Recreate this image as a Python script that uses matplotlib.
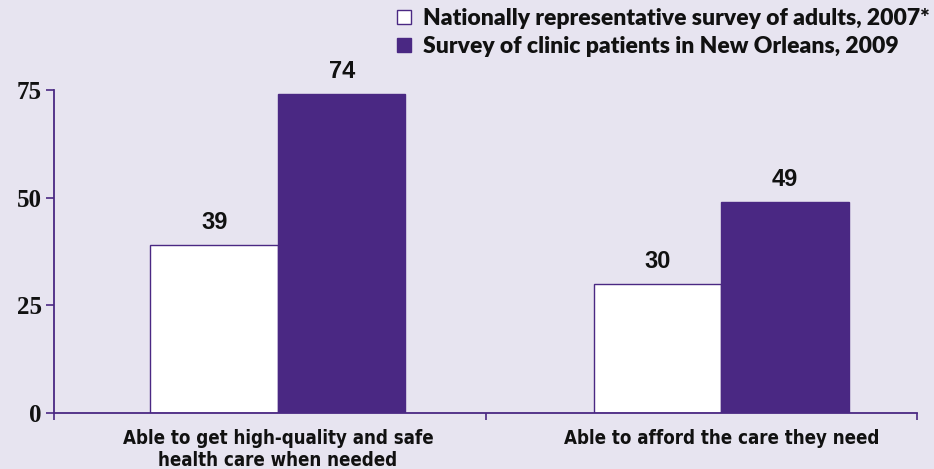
import matplotlib.pyplot as plt
from matplotlib.patches import Patch

categories = ["Able to get high-quality and safe\nhealth care when needed",
              "Able to afford the care they need"]
national_2007 = [39, 30]
new_orleans_2009 = [74, 49]
series_names = ["Nationally representative survey of adults, 2007*",
                "Survey of clinic patients in New Orleans, 2009"]
y_ticks = [0, 25, 50, 75]

bg = "#E7E4F0"
purple = "#4A2883"

fig = plt.figure(figsize=(9.34, 4.69), dpi=100, facecolor=bg)
ax = fig.add_axes([54 / 934, 56 / 469, 863 / 934, 323 / 469])
ax.set_facecolor(bg)

x = [0, 1]
w = 0.2875
bars1 = ax.bar([i - w / 2 for i in x], national_2007, w, color="white",
               edgecolor=purple, linewidth=1)
bars2 = ax.bar([i + w / 2 for i in x], new_orleans_2009, w, color=purple,
               edgecolor=purple, linewidth=1)

for bars in (bars1, bars2):
    for b in bars:
        ax.text(b.get_x() + b.get_width() / 2, b.get_height() + 2.6,
                str(int(b.get_height())), ha="center", va="bottom",
                fontsize=17, fontweight="bold", family="Liberation Sans",
                color="#111111")

ax.set_xlim(-0.505, 1.441)
ax.set_ylim(0, 75)

for s in ("top", "right"):
    ax.spines[s].set_visible(False)
for s in ("left", "bottom"):
    ax.spines[s].set_color(purple)
    ax.spines[s].set_linewidth(1.3)

ax.set_yticks(y_ticks)
ax.set_yticklabels([str(v) for v in y_ticks], fontsize=18, fontweight="bold",
                   family="Liberation Serif", color="#111111")
ax.tick_params(axis="y", direction="out", length=6, width=1.2, color=purple, pad=3)

# tick marks at group boundaries, labels under group centers
ax.set_xticks([-0.505, 0.469, 1.441])
ax.set_xticklabels([])
ax.tick_params(axis="x", direction="out", length=5, width=1.2, color=purple)
for i, lab in zip(x, categories):
    ax.text(i, -3.6, lab, ha="center", va="top", fontsize=13.4,
            fontweight="bold", family="DejaVu Sans", fontstretch="condensed",
            color="#111111", linespacing=1.22, clip_on=False)

handles = [Patch(facecolor="white", edgecolor=purple, linewidth=1),
           Patch(facecolor=purple, edgecolor=purple)]
leg = fig.legend(handles, series_names, loc="upper right",
                 bbox_to_anchor=(1.017, 1.027), frameon=False,
                 handlelength=0.6, handleheight=0.6, handletextpad=0.5,
                 labelspacing=0.32,
                 prop={"family": "Lato", "weight": "heavy", "size": 16.5})
for t in leg.get_texts():
    t.set_color("#111111")

fig.savefig("out.png", dpi=100, facecolor=bg)
